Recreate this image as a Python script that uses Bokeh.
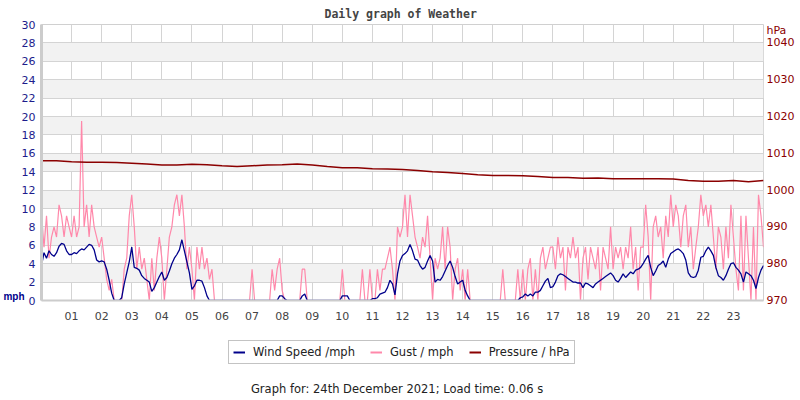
from bokeh.plotting import figure
from bokeh.layouts import column
from bokeh.models import (Range1d, LinearAxis, FixedTicker, Title, Legend, LegendItem,
                          ColumnDataSource, Label)
from bokeh.embed import file_html
from bokeh.resources import INLINE

# ---------------- data ----------------
hour_ticks = list(range(1, 24))
hour_labels = ["01", "02", "03", "04", "05", "06", "07", "08", "09", "10", "11", "12",
               "13", "14", "15", "16", "17", "18", "19", "20", "21", "22", "23"]
mph_ticks = [0, 2, 4, 6, 8, 10, 12, 14, 16, 18, 20, 22, 24, 26, 28, 30]
hpa_ticks = [970, 980, 990, 1000, 1010, 1020, 1030, 1040]

sample_step_min = 5      # wind / gust samples every 5 minutes
pressure_step_min = 30   # pressure samples every 30 minutes

wind_mph = [
    3.8, 5.2, 4.6, 5.4, 5.0, 4.8, 5.2, 5.9, 6.2, 6.1, 5.4, 5.0,   # 00
    5.0, 5.2, 5.1, 5.4, 5.6, 5.5, 5.8, 6.1, 6.0, 5.5, 4.4, 4.2,   # 01
    4.3, 4.2, 3.4, 2.2, 0.8, 0.0, 0.0, 0.0, 0.3, 1.8, 3.0, 4.2,   # 02
    5.8, 3.6, 3.5, 3.3, 2.7, 2.4, 2.2, 2.0, 1.0, 1.4, 2.0, 2.6,   # 03
    3.1, 2.2, 2.5, 3.2, 4.0, 4.6, 5.0, 5.5, 6.6, 5.4, 4.2, 3.0,   # 04
    1.2, 1.6, 2.2, 2.2, 2.1, 1.4, 0.5, 0.0, 0.0, 0.0, 0.0, 0.0,   # 05
    0.0, 0.0, 0.0, 0.0, 0.0, 0.0, 0.0, 0.0, 0.0, 0.0, 0.0, 0.0,   # 06
    0.0, 0.0, 0.0, 0.0, 0.0, 0.0, 0.0, 0.0, 0.0, 0.0, 0.0, 0.5,   # 07
    0.5, 0.2, 0.0, 0.0, 0.0, 0.0, 0.0, 0.0, 0.5, 0.7, 0.0, 0.0,   # 08
    0.0, 0.0, 0.0, 0.0, 0.0, 0.0, 0.0, 0.0, 0.0, 0.0, 0.0, 0.0,   # 09
    0.5, 0.5, 0.5, 0.0, 0.0, 0.0, 0.0, 0.0, 0.0, 0.0, 0.0, 0.0,   # 10
    0.2, 0.2, 0.3, 0.7, 0.8, 0.9, 1.4, 2.2, 1.8, 0.6, 2.9, 4.3,   # 11
    4.9, 5.1, 5.4, 6.1, 5.4, 4.5, 4.4, 3.8, 3.4, 3.6, 4.3, 4.9,   # 12
    4.3, 2.0, 2.3, 2.2, 2.6, 3.2, 3.8, 4.3, 3.6, 2.6, 1.8, 2.0,   # 13
    2.2, 1.1, 0.5, 0.0, 0.0, 0.0, 0.0, 0.0, 0.0, 0.0, 0.0, 0.0,   # 14
    0.0, 0.0, 0.0, 0.0, 0.0, 0.0, 0.0, 0.0, 0.0, 0.0, 0.0, 0.3,   # 15
    0.4, 0.7, 0.5, 0.7, 0.5, 0.9, 0.9, 1.1, 1.6, 2.1, 2.4, 1.4,   # 16
    1.5, 2.0, 2.7, 2.9, 2.8, 2.6, 2.4, 2.2, 2.0, 2.0, 1.9, 1.9,   # 17
    1.4, 1.9, 1.8, 1.6, 1.4, 1.8, 2.0, 2.2, 2.4, 2.6, 2.8, 3.0,   # 18
    2.7, 2.2, 2.0, 2.4, 2.9, 2.5, 2.8, 3.1, 2.9, 3.3, 3.4, 3.6,   # 19
    4.0, 4.5, 4.9, 3.6, 2.7, 3.2, 3.8, 4.0, 4.3, 3.6, 4.5, 5.1,   # 20
    5.3, 5.5, 5.6, 5.4, 5.1, 4.4, 3.0, 2.6, 2.5, 2.6, 3.3, 4.7,   # 21
    4.8, 5.4, 5.8, 5.4, 4.9, 3.6, 2.7, 2.5, 2.2, 2.7, 3.4, 4.0,   # 22
    4.1, 3.6, 3.3, 2.9, 2.0, 3.1, 2.9, 2.7, 2.2, 1.3, 2.5, 3.3,   # 23
    3.8,
]

gust_mph = [
    9.2, 5.8, 9.2, 4.6, 6.9, 8.0, 6.9, 10.4, 9.2, 6.9, 9.2, 8.0,    # 00
    6.9, 9.2, 6.9, 8.0, 19.5, 8.0, 10.4, 6.9, 10.4, 8.0, 6.9, 5.8,  # 01
    6.9, 4.6, 2.3, 1.1, 2.3, 0.0, 0.0, 0.0, 0.0, 3.4, 4.6, 9.2,     # 02
    11.5, 8.0, 3.4, 5.8, 3.4, 4.6, 2.3, 0.0, 4.6, 1.1, 4.6, 6.9,    # 03
    4.6, 0.0, 3.4, 6.9, 8.0, 10.4, 11.5, 9.2, 11.5, 8.0, 3.4, 5.8,  # 04
    3.4, 0.0, 5.8, 3.4, 5.8, 3.4, 4.6, 2.3, 3.4, 0.0, 0.0, 0.0,     # 05
    0.0, 0.0, 0.0, 0.0, 0.0, 0.0, 0.0, 0.0, 0.0, 0.0, 0.0, 0.0,     # 06
    3.4, 0.0, 0.0, 0.0, 0.0, 0.0, 0.0, 0.0, 3.4, 1.1, 3.4, 4.6,     # 07
    1.1, 0.0, 0.0, 0.0, 0.0, 0.0, 0.0, 0.0, 3.4, 3.4, 0.0, 0.0,     # 08
    0.0, 0.0, 0.0, 0.0, 0.0, 0.0, 0.0, 0.0, 0.0, 0.0, 0.0, 0.0,     # 09
    3.4, 0.0, 0.0, 0.0, 0.0, 0.0, 0.0, 0.0, 3.4, 0.0, 0.0, 3.4,     # 10
    0.0, 0.0, 3.4, 1.1, 3.4, 3.4, 4.6, 5.8, 3.4, 0.0, 8.0, 6.9,     # 11
    8.0, 11.5, 6.9, 11.5, 9.2, 6.9, 5.8, 4.6, 6.9, 5.8, 9.2, 4.6,   # 12
    0.0, 4.6, 3.4, 4.6, 8.0, 3.4, 8.0, 5.8, 0.0, 3.4, 4.6, 1.1,     # 13
    3.4, 0.0, 3.4, 0.0, 0.0, 0.0, 0.0, 0.0, 0.0, 0.0, 0.0, 0.0,     # 14
    0.0, 0.0, 0.0, 0.0, 3.4, 0.0, 0.0, 0.0, 0.0, 0.0, 3.4, 0.0,     # 15
    3.4, 0.0, 3.4, 4.6, 0.0, 3.4, 0.0, 4.6, 5.8, 3.4, 4.6, 5.8,     # 16
    5.8, 3.4, 6.9, 4.6, 5.8, 1.1, 5.8, 4.6, 6.9, 4.6, 5.8, 0.0,     # 17
    4.6, 5.8, 2.3, 5.8, 4.6, 3.4, 5.8, 1.1, 5.8, 4.6, 3.4, 8.0,     # 18
    3.4, 5.8, 4.6, 5.8, 3.4, 5.8, 4.6, 8.0, 3.4, 5.8, 1.1, 5.8,     # 19
    5.8, 10.4, 6.9, 0.0, 8.0, 9.2, 6.9, 8.0, 4.6, 9.2, 6.9, 11.5,   # 20
    8.0, 10.4, 9.2, 5.8, 9.2, 10.4, 5.8, 8.0, 3.4, 5.8, 8.0, 11.5,  # 21
    9.2, 10.4, 8.0, 10.4, 6.9, 3.4, 8.0, 6.9, 3.4, 8.0, 4.6, 10.4,  # 22
    6.9, 3.4, 1.1, 9.2, 1.1, 9.2, 4.6, 0.0, 8.0, 0.0, 11.5, 9.2,    # 23
    5.8,
]

pressure_hpa = [
    1008.0, 1008.0, 1007.7, 1007.6, 1007.6, 1007.5, 1007.3, 1007.1,
    1006.8, 1006.8, 1007.0, 1006.9, 1006.6, 1006.4, 1006.6, 1006.8,
    1006.9, 1007.1, 1006.8, 1006.4, 1006.1, 1006.1, 1005.8, 1005.7,
    1005.6, 1005.3, 1005.0, 1004.8, 1004.5, 1004.2, 1004.0, 1004.0,
    1003.9, 1003.7, 1003.4, 1003.4, 1003.2, 1003.3, 1003.1, 1003.1,
    1003.1, 1003.1, 1003.0, 1002.6, 1002.4, 1002.4, 1002.6, 1002.3,
    1002.6,
]

title_text = "Daily graph of Weather"
footer_text = "Graph for: 24th December 2021; Load time: 0.06 s"
mph_unit_label = "mph"
hpa_unit_label = "hPa"
legend_labels = ["Wind Speed /mph", "Gust / mph", "Pressure / hPa"]

# ---------------- styles ----------------
FONT = "DejaVu Sans"
GRID = "#d4d4d4"
NAVY = "#1c1c8c"
WIND_C = "#00008b"
GUST_C = "#ff88aa"
PRES_C = "#8b0000"
NAN = float("nan")

# ---------------- sources ----------------
sample_hours = [i * sample_step_min / 60.0 for i in range(len(wind_mph))]
pressure_hours = [i * pressure_step_min / 60.0 for i in range(len(pressure_hpa))]
src_wind = ColumnDataSource(dict(x=sample_hours, y=wind_mph))
src_gust = ColumnDataSource(dict(x=sample_hours, y=gust_mph))
src_pres = ColumnDataSource(dict(x=pressure_hours, y=pressure_hpa))

# ---------------- main chart ----------------
p = figure(width=800, height=330, x_range=Range1d(0, 24), y_range=Range1d(0, 30),
           output_backend="svg", toolbar_location=None, title=None,
           min_border_left=40, min_border_right=37, min_border_top=23, min_border_bottom=30)
p.extra_y_ranges = {"hpa": Range1d(970, 1045)}
p.outline_line_color = "#d0d0d0"
p.background_fill_color = "white"
p.border_fill_color = "white"


def plain_axis(ax, color, standoff, size="11px", font=FONT):
    ax.major_tick_line_color = None
    ax.minor_tick_line_color = None
    ax.major_tick_out = 0
    ax.major_tick_in = 0
    ax.major_label_standoff = standoff
    ax.major_label_text_color = color
    ax.major_label_text_font = font
    ax.major_label_text_font_size = size


xa = p.xaxis[0]
xa.ticker = FixedTicker(ticks=hour_ticks)
xa.major_label_overrides = {t: l for t, l in zip(hour_ticks, hour_labels)}
xa.axis_line_color = "#cccccc"
xa.axis_line_width = 2
plain_axis(xa, "#444444", 11)

ya = p.yaxis[0]
ya.ticker = FixedTicker(ticks=mph_ticks)
ya.axis_line_color = "#cccccc"
ya.axis_line_width = 3
plain_axis(ya, NAVY, 6)

# unit caption "mph" at the foot of the left scale (label-only second left axis)
mph_pos = 0.45
ua = LinearAxis(ticker=FixedTicker(ticks=[mph_pos]),
                major_label_overrides={mph_pos: mph_unit_label})
ua.axis_line_color = None
plain_axis(ua, WIND_C, -6, size="10px", font="Liberation Sans")
ua.major_label_text_font_style = "bold"
p.add_layout(ua, "left")

# right pressure axis, with its "hPa" caption at the top of the scale
hpa_pos = 1043.5
ra = LinearAxis(y_range_name="hpa", ticker=FixedTicker(ticks=hpa_ticks + [hpa_pos]),
                major_label_overrides={hpa_pos: hpa_unit_label})
ra.axis_line_color = None
plain_axis(ra, PRES_C, 3)
p.add_layout(ra, "right")

p.xgrid.ticker = FixedTicker(ticks=hour_ticks)
p.xgrid.grid_line_color = GRID
p.ygrid.ticker = FixedTicker(ticks=mph_ticks)
p.ygrid.grid_line_color = GRID
p.ygrid.band_fill_color = "#f2f2f2"
p.ygrid.band_fill_alpha = 1.0

p.line("x", "y", source=src_gust, line_color=GUST_C, line_width=1.2)
p.line("x", "y", source=src_wind, line_color=WIND_C, line_width=1.3)
p.line("x", "y", source=src_pres, y_range_name="hpa", line_color=PRES_C, line_width=1.5)

p.add_layout(Title(text=title_text, align="left", offset=283, standoff=8,
                   text_font="DejaVu Sans Mono", text_font_style="bold",
                   text_font_size="11.5px", text_color="#444444"), "above")

# ---------------- legend + footer strip (frame aligned with the chart's) ----------------
f = figure(width=800, height=70, x_range=Range1d(0, 24), y_range=Range1d(0, 70),
           output_backend="svg", toolbar_location=None, title=None,
           x_axis_location=None, y_axis_location=None, min_border=0)
f.outline_line_color = None
f.background_fill_color = "white"
f.border_fill_color = "white"
f.grid.grid_line_color = None

# legend keys, styled like the chart lines (they hold no chart data)
k_wind = f.line(x=[NAN], y=[NAN], line_color=WIND_C, line_width=2)
k_gust = f.line(x=[NAN], y=[NAN], line_color=GUST_C, line_width=2)
k_pres = f.line(x=[NAN], y=[NAN], line_color=PRES_C, line_width=2)

legend = Legend(items=[
    LegendItem(label=legend_labels[0], renderers=[k_wind]),
    LegendItem(label=legend_labels[1], renderers=[k_gust]),
    LegendItem(label=legend_labels[2], renderers=[k_pres]),
], location=(187, 36), orientation="horizontal")
legend.label_text_font = FONT
legend.label_text_font_size = "11.5px"
legend.label_text_color = "#222222"
legend.glyph_width = 12
legend.glyph_height = 10
legend.label_standoff = 8
legend.spacing = 15
legend.padding = 4
legend.margin = 0
legend.border_line_color = "#888888"
legend.border_line_width = 1
legend.background_fill_alpha = 1.0
f.add_layout(legend)

f.add_layout(Label(x=11.82, y=12, text=footer_text, text_align="center", text_baseline="middle",
                   text_font=FONT, text_font_size="11.5px", text_color="#222222"))

open("out.html", "w").write(file_html(column(p, f), INLINE))
